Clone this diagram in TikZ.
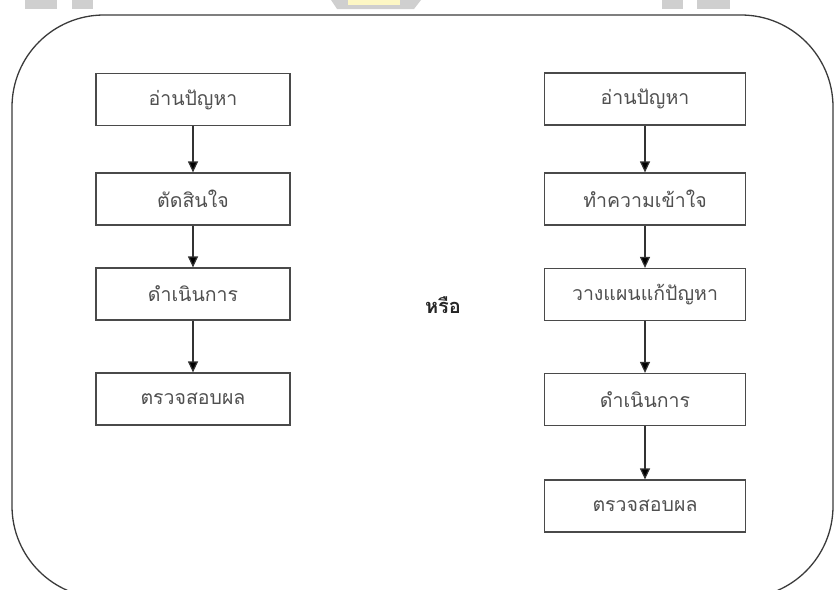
\documentclass[tikz,border=0pt]{standalone}
\usepackage{fontspec}
\newfontfamily\thaifont[Script=Thai]{Loma}
\usetikzlibrary{arrows.meta}
\definecolor{wmgray}{HTML}{CFCFCF}
\definecolor{wmyellow}{HTML}{FDF7C4}
\definecolor{framecol}{HTML}{3A3A3A}
\definecolor{boxcol}{HTML}{4A4A4A}
\definecolor{txtcol}{HTML}{505050}
\tikzset{
  x=1pt, y=-1pt,
  stepbox/.style={draw=boxcol, line width=1.2pt, fill=white, inner sep=0pt,
    minimum height=52pt, font=\thaifont\fontsize{19.5}{23}\selectfont, text=txtcol},
  leftbox/.style={stepbox, minimum width=194pt},
  rightbox/.style={stepbox, minimum width=201pt},
  flow/.style={draw=black!80, line width=1.2pt, -{Triangle[length=11pt,width=10pt,fill=black]}},
  orlabel/.style={font=\thaifont\bfseries\fontsize{20}{24}\selectfont, text=black!85}
}
\begin{document}
\begin{tikzpicture}
\useasboundingbox (0,0) rectangle (837,589);
% watermark fragments at top
\fill[wmgray] (25,0) rectangle (57,9);
\fill[wmgray] (72,0) rectangle (93,9);
\fill[wmgray] (662,0) rectangle (683,9);
\fill[wmgray] (697,0) rectangle (730,9);
\fill[wmgray] (331,0) -- (421,0) -- (414,9) -- (337,9) -- cycle;
\fill[wmyellow] (348,0) rectangle (400,5);
% frame
\draw[framecol, line width=1.3pt, rounded corners=92pt] (12,15) rectangle (833,598);
% left column
\node[leftbox] (l1) at (193,99.5) {อ่านปัญหา};
\node[leftbox] (l2) at (193,199) {ตัดสินใจ};
\node[leftbox] (l3) at (193,294) {ดำเนินการ};
\node[leftbox] (l4) at (193,399) {ตรวจสอบผล};
% right column
\node[rightbox] (r1) at (645,99) {อ่านปัญหา};
\node[rightbox] (r2) at (645,199) {ทำความเข้าใจ};
\node[rightbox] (r3) at (645,294.5) {วางแผนแก้ปัญหา};
\node[rightbox] (r4) at (645,399.5) {ดำเนินการ};
\node[rightbox] (r5) at (645,506) {ตรวจสอบผล};
% middle label
\node[orlabel] (or) at (443,305) {หรือ};
% connectors
\draw[flow] (l1) -- (l2);
\draw[flow] (l2) -- (l3);
\draw[flow] (l3) -- (l4);
\draw[flow] (r1) -- (r2);
\draw[flow] (r2) -- (r3);
\draw[flow] (r3) -- (r4);
\draw[flow] (r4) -- (r5);
\end{tikzpicture}
\end{document}
